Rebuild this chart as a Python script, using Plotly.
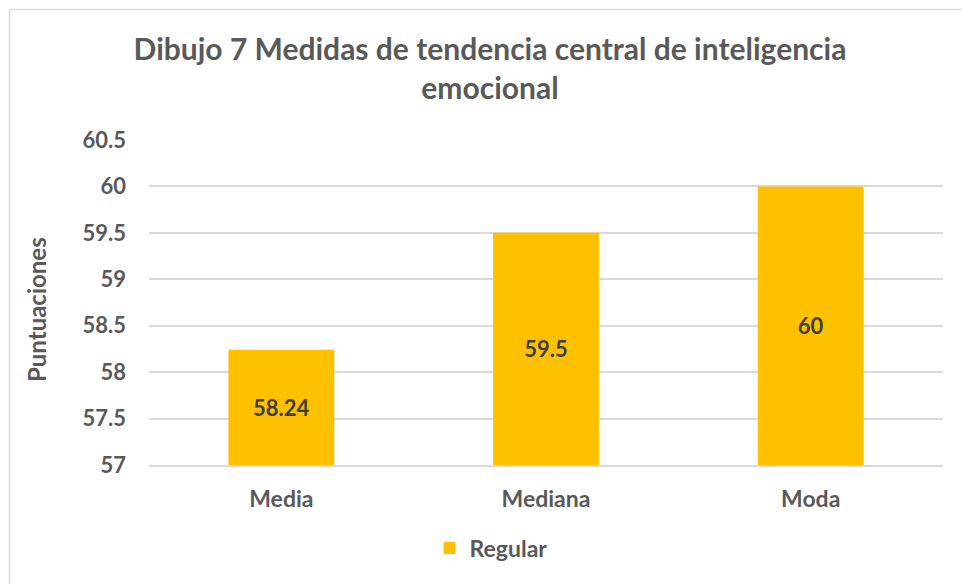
import plotly.graph_objects as go

categories = ["Media", "Mediana", "Moda"]
values = [58.24, 59.5, 60]
value_labels = ["58.24", "59.5", "60"]
series_name = "Regular"
axis_floor = 57
y_ticks = [57, 57.5, 58, 58.5, 59, 59.5, 60, 60.5]
y_tick_text = ["57", "57.5", "58", "58.5", "59", "59.5", "60", "60.5"]
y_title = "Puntuaciones"

FONT = "Lato"
GRAY = "#595959"

fig = go.Figure()
fig.add_trace(go.Bar(
    x=categories, y=[v - axis_floor for v in values], base=axis_floor,
    name=series_name,
    marker=dict(color="#FFC000", line=dict(width=0)),
    width=0.4,
    text=value_labels, textposition="inside", insidetextanchor="middle",
    textfont=dict(family=FONT, size=22, color="#404040", weight="bold"),
    hovertext=[str(v) for v in values],
))

L, R, T, B = 149, 962 - 943, 140, 584 - 465
W = 962 - L - R
H = 584 - T - B

fig.update_layout(
    width=962, height=584,
    margin=dict(l=L, r=R, t=T, b=B, pad=0),
    paper_bgcolor="white", plot_bgcolor="white",
    title=dict(
        text="<b>Dibujo 7 Medidas de tendencia central de inteligencia<br>emocional</b>",
        x=(490 - L) / W, xref="paper", xanchor="center",
        y=1 - 60 / 584, yanchor="top", yref="container",
        font=dict(family=FONT, size=30, color=GRAY),
    ),
    showlegend=True,
    legend=dict(
        orientation="h", x=(491 - L) / W, xanchor="center",
        y=(465 - 548) / H, yanchor="middle",
        font=dict(family=FONT, size=23, color=GRAY, weight="bold"),
        itemsizing="constant",
    ),
    yaxis=dict(
        range=[57, 60.5], tickvals=y_ticks, ticktext=y_tick_text,
        showgrid=True, gridcolor="#D9D9D9", gridwidth=1.5,
        zeroline=False, showline=False,
        tickfont=dict(family=FONT, size=22, color=GRAY, weight="bold"),
        ticks="", ticklabelstandoff=22,
    ),
    xaxis=dict(
        showline=True, linecolor="#D9D9D9", linewidth=2,
        tickfont=dict(family=FONT, size=23, color=GRAY, weight="bold"),
        ticks="", ticklabelstandoff=12,
    ),
    annotations=[
        dict(text=f"<b>{y_title}</b>", textangle=-90, showarrow=False,
             xref="paper", yref="paper",
             x=(36 - L) / W, y=(465 - 310) / H, xanchor="center", yanchor="middle",
             font=dict(family=FONT, size=24, color=GRAY)),
    ],
    shapes=[
        dict(type="line", xref="paper", yref="paper",
             x0=(9.5 - L) / W, x1=(9.5 - L) / W, y0=(465 - 9.5) / H, y1=-1.0,
             line=dict(color="#D9D9D9", width=1.5)),
        dict(type="line", xref="paper", yref="paper",
             x0=(9.5 - L) / W, x1=1.2, y0=(465 - 9.5) / H, y1=(465 - 9.5) / H,
             line=dict(color="#D9D9D9", width=1.5)),
    ],
)

fig.write_html("out.html", config={"displayModeBar": False},
               post_script="document.body.style.margin='0';document.body.style.overflow='hidden';")
